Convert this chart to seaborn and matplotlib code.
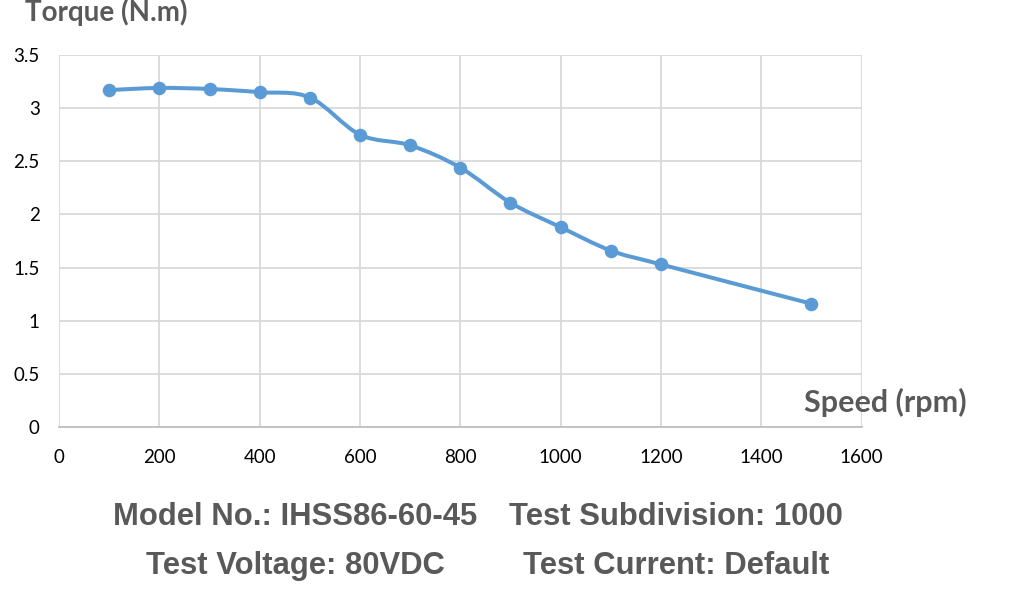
import numpy as np
import matplotlib.pyplot as plt
import pandas as pd
import seaborn as sns
from matplotlib.path import Path
from matplotlib.patches import PathPatch

speed_rpm = [100, 200, 300, 400, 500, 600, 700, 800, 900, 1000, 1100, 1200, 1500]
torque_nm = [3.17, 3.19, 3.18, 3.15, 3.10, 2.75, 2.65, 2.44, 2.11, 1.88, 1.66, 1.53, 1.16]
x_ticks = [0, 200, 400, 600, 800, 1000, 1200, 1400, 1600]
y_ticks = [0, 0.5, 1, 1.5, 2, 2.5, 3, 3.5]
y_tick_labels = ["0", "0.5", "1", "1.5", "2", "2.5", "3", "3.5"]
info_lines = [
    ("Model No.: IHSS86-60-45", "Test Subdivision: 1000"),
    ("Test Voltage: 80VDC", "Test Current: Default"),
]


def setup_style():
    sns.set_theme(style="whitegrid")
    plt.rcParams.update({
        "font.family": ["Lato", "DejaVu Sans"],
        "grid.color": "#d9d9d9",
        "grid.linewidth": 1.3,
    })
    return "#5b9bd5"


def smooth_path(xs, ys):
    # Excel-style smoothed line: cubic Bezier segments with Catmull-Rom tangents
    pts = np.column_stack([xs, ys]).astype(float)
    n = len(pts)
    verts = [pts[0]]
    codes = [Path.MOVETO]
    for i in range(n - 1):
        p0 = pts[i - 1] if i > 0 else pts[i]
        p1, p2 = pts[i], pts[i + 1]
        p3 = pts[i + 2] if i + 2 < n else pts[i + 1]
        c1 = p1 + (p2 - p0) / 6.0
        c2 = p2 - (p3 - p1) / 6.0
        verts += [c1, c2, p2]
        codes += [Path.CURVE4] * 3
    return Path(verts, codes)


def main():
    color = setup_style()
    df = pd.DataFrame({"speed": speed_rpm, "torque": torque_nm})

    fig = plt.figure(figsize=(10.25, 6.07), dpi=100)
    ax = fig.add_axes([0.0576, 0.2965, 0.783, 0.6129])

    ax.add_patch(PathPatch(smooth_path(df["speed"], df["torque"]), facecolor="none",
                           edgecolor=color, linewidth=2.9, capstyle="round", zorder=3))
    sns.scatterplot(data=df, x="speed", y="torque", color=color, s=95,
                    linewidth=0, zorder=4, ax=ax)

    ax.set_xlim(0, 1600)
    ax.set_ylim(0, 3.5)
    ax.set_xticks(x_ticks)
    ax.set_yticks(y_ticks)
    ax.set_yticklabels(y_tick_labels)
    ax.tick_params(axis="both", labelsize=13.5, colors="black", length=0)
    ax.tick_params(axis="x", pad=16)
    ax.tick_params(axis="y", pad=14)
    ax.set_xlabel("")
    ax.set_ylabel("")
    for side in ["left", "right", "top"]:
        ax.spines[side].set_visible(False)
    ax.spines["bottom"].set_color("#bfbfbf")
    ax.spines["bottom"].set_linewidth(1.3)

    grey = "#595959"
    fig.text(25 / 1025, 1 - 21 / 607, "Torque (N.m)", fontsize=20, fontweight="bold",
             color=grey, ha="left", va="baseline")
    fig.text(967 / 1025, 1 - 412 / 607, "Speed (rpm)", fontsize=22, fontweight="bold",
             color=grey, ha="right", va="baseline")

    for row, (left_txt, right_txt) in enumerate(info_lines):
        y = 1 - (517 + row * 49) / 607
        fig.text(295 / 1025, y, left_txt, fontsize=22.3, fontweight="bold", color=grey,
                 ha="center", va="center", family=["Liberation Sans", "DejaVu Sans"])
        fig.text(676 / 1025, y, right_txt, fontsize=22.3, fontweight="bold", color=grey,
                 ha="center", va="center", family=["Liberation Sans", "DejaVu Sans"])

    fig.savefig("out.png", dpi=100)
    plt.close(fig)


if __name__ == "__main__":
    main()
